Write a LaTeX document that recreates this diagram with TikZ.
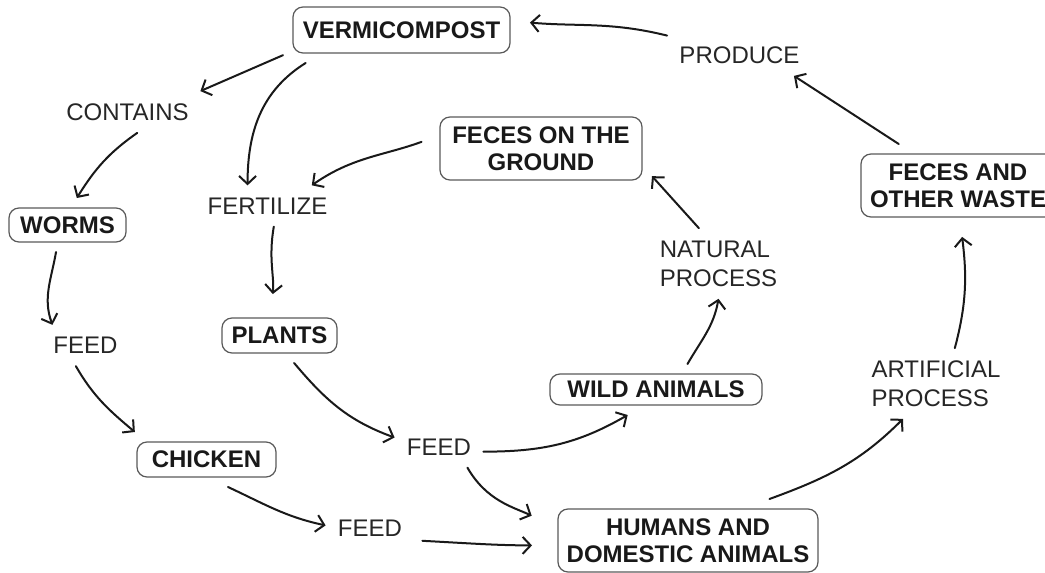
\documentclass[tikz,border=0pt]{standalone}
\usepackage{fontspec}
\setmainfont{Liberation Sans}
\usetikzlibrary{arrows.meta}

\tikzset{
  box/.style = {draw = black!65, line width = 0.6pt, rounded corners = 5pt,
                font = \bfseries\fontsize{12}{13.5}\selectfont, text = black!90,
                align = center, inner sep = 0pt, outer sep = 5pt},
  lbl/.style = {font = \fontsize{12}{14.5}\selectfont, text = black!85,
                align = left, inner sep = 6pt},
  flow/.style = {-{Straight Barb[length = 4pt, width = 8.5pt]}, line width = 1pt,
                 line cap = round, black!90},
}

\begin{document}
\begin{tikzpicture}[x = 0.5pt, y = 0.5pt]
    \clip (0, 0) rectangle (1045, 573);
    % boxes
    \node[box, minimum width = 108.5pt, minimum height = 23pt]   (vermi)   at (401.5, 543)   {VERMICOMPOST};
    \node[box, minimum width = 58.5pt,  minimum height = 17pt]   (worms)   at (67.5, 348)    {WORMS};
    \node[box, minimum width = 57.5pt,  minimum height = 17.5pt] (plants)  at (279.5, 237.5) {PLANTS};
    \node[box, minimum width = 69.5pt,  minimum height = 17.5pt] (chicken) at (206.5, 113.5) {CHICKEN};
    \node[box, minimum width = 106pt,   minimum height = 15.5pt] (wild)    at (656, 183.5)   {WILD ANIMALS};
    \node[box, minimum width = 101pt,   minimum height = 31.5pt] (ground)  at (541, 424.5)   {FECES ON THE\\GROUND};
    \node[box, minimum width = 97pt,    minimum height = 31.5pt] (waste)   at (958, 387.5)   {FECES AND\\OTHER WASTE};
    \node[box, minimum width = 130pt,   minimum height = 31.5pt] (humans)  at (688, 32.5)    {HUMANS AND\\DOMESTIC ANIMALS};
    % labels
    \node[lbl] (produce)    at (739.5, 518)   {PRODUCE};
    \node[lbl] (contains)   at (127.5, 461)   {CONTAINS};
    \node[lbl] (fertilize)  at (267.5, 367)   {FERTILIZE};
    \node[lbl] (feedA)      at (85.5, 227.5)  {FEED};
    \node[lbl] (feedB)      at (439, 126)     {FEED};
    \node[lbl] (feedC)      at (370, 44.5)    {FEED};
    \node[lbl] (natural)    at (718.5, 309.5) {NATURAL\\PROCESS};
    \node[lbl] (artificial) at (936, 189.5)   {ARTIFICIAL\\PROCESS};
    % arrows
    \draw[flow, shorten >= 5pt] (produce.165) to[out = 166, in = -5] (vermi.4);
    \draw[flow] (waste.145) -- (produce.-21);
    \draw[flow, shorten >= 5pt] (artificial.62) to[out = 75, in = -83] (waste.-86);
    \draw[flow] (humans.27) to[out = 20, in = -135] (artificial.227);
    \draw[flow, shorten >= 9pt] (feedB.-36) to[out = -60, in = 155] (humans.173);
    \draw[flow, shorten <= 4pt, shorten >= 8pt] (feedC.-15) to[out = -3, in = 180] (humans.182);
    \draw[flow] (feedB.-6) to[out = 0, in = 210] (wild.222);
    \draw[flow] (wild.39) to[out = 60, in = -100] (natural.-90);
    \draw[flow] (natural.119) -- (ground.-14);
    \draw[flow, shorten <= 4.5pt] (ground.175) to[out = 200, in = 35] (fertilize.25);
    \draw[flow] (vermi.199) to[out = 212, in = 90] (fertilize.134);
    \draw[flow] (vermi.192) -- (contains.16);
    \draw[flow] (contains.-65) to[out = 215, in = 58] (worms.71);
    \draw[flow, shorten >= 7pt] (fertilize.-73) to[out = -100, in = 85] (plants.106);
    \draw[flow] (worms.-113) to[out = -100, in = 110] (feedA.148);
    \draw[flow] (feedA.-115) to[out = -60, in = 140] (chicken.159);
    \draw[flow] (plants.-62) to[out = -50, in = 160] (feedB.168);
    \draw[flow] (chicken.-52) to[out = -25, in = 168] (feedC.176);
\end{tikzpicture}
\end{document}
